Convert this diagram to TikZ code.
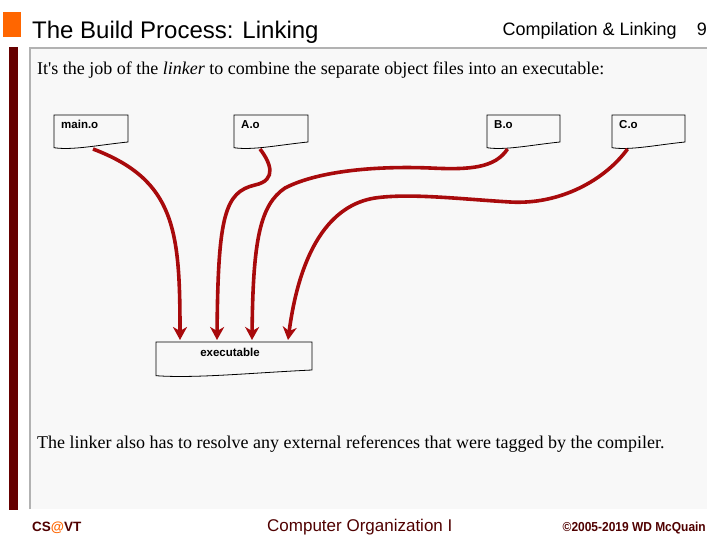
\documentclass[tikz,border=0pt]{standalone}
\usepackage{fontspec}
\setmainfont{Liberation Serif}
\setsansfont{Liberation Sans}
\usepackage{tikz}
\usetikzlibrary{arrows.meta,calc}

\definecolor{linkred}{RGB}{168,10,12}
\definecolor{barmaroon}{RGB}{102,0,0}
\definecolor{vtorange}{RGB}{255,102,0}
\definecolor{panelgray}{RGB}{248,248,248}
\definecolor{rulegray}{RGB}{178,178,178}
\definecolor{footmaroon}{RGB}{80,0,0}

% outline of a file box with a wavy bottom
\newcommand{\docoutline}[1]{%
  \draw[line width=0.8pt] (#1.north west) -- (#1.north east) -- ([yshift=7pt]#1.south east)
    .. controls ($(#1.south west)!0.6!(#1.south east)+(0pt,4pt)$)
    and ($(#1.south west)!0.25!(#1.south east)+(0pt,-1.5pt)$) .. ([yshift=1.3pt]#1.south west) -- cycle;}

\begin{document}
\begin{tikzpicture}[
    x=1pt, y=-1pt,
    lbl/.style={font=\sffamily\bfseries\fontsize{11.5}{13}\selectfont, inner sep=0pt},
    objbox/.style={minimum width=74pt, minimum height=34pt, inner sep=0pt, outer sep=0pt, anchor=north west,
      label={[lbl, anchor=base west, xshift=7pt, yshift=-14pt]north west:#1}},
    link/.style={-{Stealth[length=13pt, width=14pt, inset=4pt]}, line width=3.6pt, draw=linkred},
    body/.style={anchor=base west, inner sep=0pt, font=\fontsize{18}{21}\selectfont}
]
\useasboundingbox[fill=white] (0,0) rectangle (720,540);

% Slide frame
\fill[vtorange] (3,12) rectangle (21,37);
\fill[barmaroon] (9,47) rectangle (18,510);
\fill[panelgray] (30,48) rectangle (707,509);
\draw[rulegray, line width=1.5pt] (30,509) -- (30,48);
\draw[rulegray, line width=2.5pt] (29,48) -- (707,48);

% Header
\node[anchor=base west, inner sep=0pt, font=\sffamily\fontsize{24}{28}\selectfont] (title) at (32,39) {The Build Process: Linking};
\node[anchor=base east, inner sep=0pt, font=\sffamily\fontsize{18}{21}\selectfont] (topic) at (677,36) {Compilation \& Linking};
\node[anchor=base east, inner sep=0pt, font=\sffamily\fontsize{18}{21}\selectfont] (pagenum) at (707,36) {9};

% Text
\node[body] (intro) at (37,75) {It\textquotesingle s the job of the \textit{linker} to combine the separate object files into an executable:};
\node[body] (outro) at (37,448) {The linker also has to resolve any external references that were tagged by the compiler.};

% Object files
\node[objbox=main.o] (main) at (54,115) {};
\node[objbox=A.o] (A) at (234,115) {};
\node[objbox=B.o, minimum width=73pt] (B) at (487,115) {};
\node[objbox=C.o, minimum width=73pt] (C) at (612,115) {};

% Executable
\node[minimum width=156pt, minimum height=35pt, inner sep=0pt, outer sep=0pt, anchor=north west] (exe) at (156,342) {};
\node[lbl, anchor=base] (exelbl) at ([xshift=-4pt, yshift=-14pt]exe.north) {executable};

\foreach \n in {main,A,B,C,exe} {\docoutline{\n}}

% Links
\draw[link] ([xshift=2pt]main.south) .. controls (175,180) and (180,230) .. ([xshift=-54pt, yshift=2pt]exe.north);
\draw[link] ([xshift=-11pt]A.south) .. controls (270,162) and (278,180) .. (255,185)
  .. controls (225,192) and (218,215) .. ([xshift=-17pt, yshift=2pt]exe.north);
\draw[link] ([xshift=-16pt]B.south) .. controls (495,168) and (470,170) .. (430,168)
  .. controls (380,166) and (320,170) .. (285,188)
  .. controls (260,205) and (253,240) .. ([xshift=18pt, yshift=2pt]exe.north);
\draw[link] ([xshift=-21pt]C.south) .. controls (605,180) and (560,205) .. (510,202)
  .. controls (460,199) and (410,193) .. (375,198)
  .. controls (330,205) and (300,250) .. ([xshift=54pt, yshift=2pt]exe.north);

% Footer
\node[anchor=base west, inner sep=0pt, font=\sffamily\bfseries\fontsize{13.5}{16}\selectfont, text=footmaroon] (dept) at (32,531) {CS\textcolor{vtorange}{@}VT};
\node[anchor=base west, inner sep=0pt, font=\sffamily\fontsize{17}{20}\selectfont, text=footmaroon] (course) at (267,531) {Computer Organization I};
\node[anchor=base east, inner sep=0pt, font=\sffamily\bfseries\fontsize{13}{15}\selectfont, text=footmaroon] (copy) at (706,531) {\scalebox{0.92}[1]{©2005-2019 WD McQuain}};
\end{tikzpicture}
\end{document}
